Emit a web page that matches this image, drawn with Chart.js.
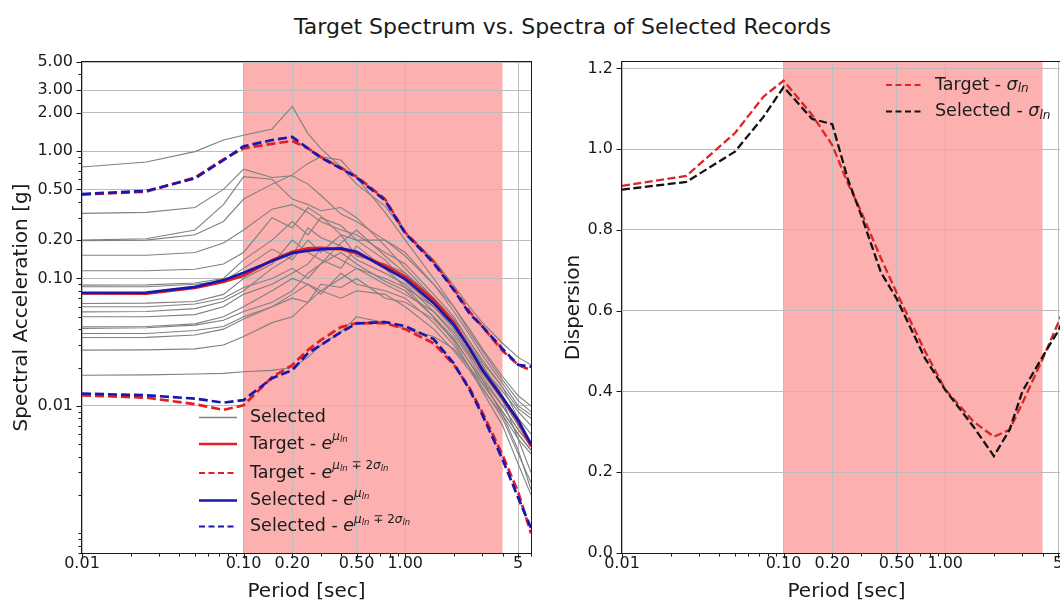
<!DOCTYPE html>
<html>
<head>
<meta charset="utf-8">
<script src="https://cdn.jsdelivr.net/npm/chart.js@4.4.1/dist/chart.umd.min.js"></script>
<style>
  html, body { margin: 0; padding: 0; background: #fff; width: 1060px; height: 602px; overflow: hidden; }
  #title { position: absolute; left: 0; top: 14px; width: 1125px; text-align: center;
           font: 22px "DejaVu Sans"; color: #1a1a1a; white-space: nowrap; }
  .box { position: absolute; top: 0; width: 545px; height: 602px; }
</style>
</head>
<body>
<div id="title">Target Spectrum vs. Spectra of Selected Records</div>
<div class="box" style="left:0"><canvas id="sa"></canvas></div>
<div class="box" style="left:540px"><canvas id="disp"></canvas></div>

<script>
// Periods (sec) shared by every curve
const periods = [0.01, 0.025, 0.05, 0.075, 0.1, 0.15, 0.2, 0.25, 0.3, 0.4, 0.5, 0.75, 1, 1.5, 2, 2.5, 3, 4, 5, 6];

// Axis ticks
const xTicks = [0.01, 0.1, 0.2, 0.5, 1, 5];
const xTickLabels = ['0.01', '0.10', '0.20', '0.50', '1.00', '5'];
const saTicks = [0.01, 0.1, 0.2, 0.5, 1, 2, 3, 5];
const saTickLabels = ['0.01', '0.10', '0.20', '0.50', '1.00', '2.00', '3.00', '5.00'];
const dispTicks = [0, 0.2, 0.4, 0.6, 0.8, 1.0, 1.2];

// Period range used for matching (shaded)
const targetRange = [0.1, 4];

// Spectra of selected ground motions [g]
const selectedRecords = [
  [0.75, 0.82, 0.99, 1.22, 1.33, 1.49, 2.24, 1.37, 1.05, 0.75, 0.55, 0.37, 0.23, 0.14, 0.088, 0.06, 0.045, 0.031, 0.024, 0.021],
  [0.324, 0.33, 0.36, 0.5, 0.72, 0.62, 0.64, 0.55, 0.45, 0.32, 0.28, 0.2, 0.15, 0.09, 0.06, 0.038, 0.027, 0.016, 0.011, 0.009],
  [0.2, 0.205, 0.24, 0.38, 0.63, 0.6, 0.42, 0.38, 0.34, 0.36, 0.3, 0.18, 0.12, 0.07, 0.045, 0.03, 0.021, 0.012, 0.0075, 0.005],
  [0.198, 0.2, 0.22, 0.28, 0.42, 0.55, 0.65, 0.8, 0.9, 0.85, 0.62, 0.33, 0.2, 0.1, 0.06, 0.04, 0.028, 0.017, 0.012, 0.01],
  [0.152, 0.152, 0.16, 0.19, 0.24, 0.35, 0.38, 0.33, 0.28, 0.24, 0.22, 0.16, 0.13, 0.075, 0.05, 0.032, 0.023, 0.014, 0.0095, 0.008],
  [0.115, 0.115, 0.118, 0.13, 0.16, 0.3, 0.25, 0.36, 0.31, 0.22, 0.2, 0.2, 0.16, 0.09, 0.055, 0.036, 0.025, 0.015, 0.01, 0.0085],
  [0.0886, 0.089, 0.092, 0.1, 0.14, 0.2, 0.28, 0.22, 0.3, 0.26, 0.2, 0.14, 0.095, 0.06, 0.042, 0.028, 0.02, 0.013, 0.009, 0.007],
  [0.086, 0.086, 0.09, 0.095, 0.12, 0.17, 0.14, 0.2, 0.16, 0.22, 0.15, 0.13, 0.11, 0.068, 0.046, 0.03, 0.021, 0.011, 0.0055, 0.003],
  [0.0636, 0.064, 0.066, 0.075, 0.1, 0.13, 0.2, 0.16, 0.14, 0.12, 0.18, 0.12, 0.085, 0.05, 0.034, 0.022, 0.015, 0.009, 0.006, 0.0045],
  [0.0599, 0.06, 0.063, 0.07, 0.085, 0.1, 0.12, 0.1, 0.13, 0.19, 0.24, 0.15, 0.11, 0.07, 0.048, 0.032, 0.022, 0.014, 0.008, 0.006],
  [0.0547, 0.055, 0.058, 0.066, 0.08, 0.12, 0.15, 0.25, 0.21, 0.18, 0.14, 0.11, 0.09, 0.055, 0.036, 0.024, 0.016, 0.0085, 0.0045, 0.0022],
  [0.05, 0.05, 0.052, 0.06, 0.075, 0.09, 0.11, 0.13, 0.17, 0.14, 0.12, 0.1, 0.085, 0.06, 0.04, 0.026, 0.017, 0.01, 0.0065, 0.0048],
  [0.0417, 0.042, 0.044, 0.05, 0.06, 0.08, 0.1, 0.09, 0.08, 0.1, 0.12, 0.09, 0.075, 0.055, 0.038, 0.025, 0.018, 0.011, 0.007, 0.005],
  [0.0405, 0.041, 0.043, 0.047, 0.055, 0.065, 0.08, 0.11, 0.13, 0.16, 0.13, 0.095, 0.08, 0.05, 0.032, 0.02, 0.013, 0.007, 0.0035, 0.002],
  [0.037, 0.037, 0.039, 0.042, 0.05, 0.06, 0.07, 0.065, 0.09, 0.085, 0.1, 0.07, 0.065, 0.048, 0.033, 0.022, 0.016, 0.01, 0.0065, 0.005],
  [0.0344, 0.0345, 0.036, 0.04, 0.048, 0.06, 0.075, 0.09, 0.075, 0.11, 0.09, 0.08, 0.07, 0.045, 0.03, 0.02, 0.014, 0.008, 0.0042, 0.0025],
  [0.0274, 0.0275, 0.028, 0.03, 0.035, 0.045, 0.05, 0.065, 0.08, 0.07, 0.08, 0.075, 0.06, 0.04, 0.027, 0.019, 0.0135, 0.0085, 0.0055, 0.0042],
  [0.0174, 0.0175, 0.0178, 0.018, 0.0185, 0.019, 0.02, 0.024, 0.03, 0.038, 0.05, 0.045, 0.04, 0.035, 0.028, 0.02, 0.015, 0.009, 0.006, 0.0045]
];

// Target and selected statistics [g]
const targetMean    = [0.0763, 0.076, 0.0844, 0.094, 0.105, 0.139, 0.162, 0.172, 0.174, 0.170, 0.158, 0.126, 0.104, 0.068, 0.045, 0.028, 0.019, 0.0115, 0.0075, 0.0048];
const targetUpper   = [0.455, 0.48, 0.62, 0.86, 1.05, 1.14, 1.20, 1.05, 0.90, 0.74, 0.63, 0.42, 0.23, 0.135, 0.083, 0.055, 0.042, 0.027, 0.021, 0.019];
const targetLower   = [0.0121, 0.0116, 0.0103, 0.0093, 0.0101, 0.0168, 0.0209, 0.0274, 0.0328, 0.0415, 0.0446, 0.0446, 0.040, 0.031, 0.021, 0.0138, 0.0089, 0.0041, 0.0021, 0.001];
const selectedMean  = [0.077, 0.0775, 0.086, 0.097, 0.111, 0.137, 0.158, 0.165, 0.169, 0.172, 0.162, 0.121, 0.099, 0.064, 0.043, 0.0284, 0.0192, 0.0116, 0.0077, 0.005];
const selectedUpper = [0.46, 0.487, 0.61, 0.85, 1.09, 1.22, 1.29, 1.05, 0.89, 0.73, 0.62, 0.41, 0.226, 0.132, 0.081, 0.053, 0.042, 0.028, 0.021, 0.0203];
const selectedLower = [0.0125, 0.0121, 0.0114, 0.0106, 0.0111, 0.0165, 0.0191, 0.0259, 0.030, 0.0379, 0.0443, 0.0455, 0.0422, 0.0334, 0.0215, 0.0134, 0.0085, 0.0038, 0.0019, 0.0011];

// Dispersion (sigma ln)
const targetSigma   = [0.909, 0.934, 1.04, 1.13, 1.17, 1.085, 1.01, 0.915, 0.848, 0.73, 0.645, 0.50, 0.405, 0.325, 0.288, 0.305, 0.371, 0.48, 0.57, 0.65];
const selectedSigma = [0.90, 0.919, 0.994, 1.08, 1.154, 1.075, 1.062, 0.925, 0.84, 0.695, 0.63, 0.482, 0.404, 0.312, 0.24, 0.305, 0.40, 0.486, 0.55, 0.62];

const FONT = 'DejaVu Sans';
const TEXT = '#1a1a1a';
const GRID = '#bcbcbc';
const RED = '#e41e1e';
const BLUE = '#1818b0';
const GRAY = '#808080';
const BAND = '#fcb0b0';

const pts = (vals) => periods.map((p, i) => ({ x: p, y: vals[i] }));

function line(label, vals, color, width, dash) {
  return { label, data: pts(vals), borderColor: color, borderWidth: width,
           borderDash: dash || [], pointRadius: 0, fill: false, tension: 0 };
}

function logMinors(min, max, majors) {
  const out = [];
  for (let d = Math.pow(10, Math.floor(Math.log10(min))); d <= max; d *= 10) {
    for (let k = 1; k < 10; k++) {
      const v = +(k * d).toPrecision(4);
      if (v >= min && v <= max && !majors.some(m => Math.abs(m - v) < 1e-9)) out.push(v);
    }
  }
  return out;
}

// draw a run of text pieces (for e^{mu_ln} style labels)
function drawRich(ctx, x, y, parts) {
  let cx = x;
  parts.forEach(p => {
    ctx.font = p.f;
    ctx.fillText(p.t, cx, y + (p.dy || 0));
    cx += ctx.measureText(p.t).width;
  });
}

const base = `17.5px "${FONT}"`;
const ital = `italic 17.5px "${FONT}"`;
const sup = `12px "${FONT}"`;
const supI = `italic 12px "${FONT}"`;
const sub2 = `italic 8.5px "${FONT}"`;
const subR = `italic 12px "${FONT}"`;

const expMu = [
  { t: 'e', f: ital },
  { t: 'μ', f: supI, dy: -7 },
  { t: 'ln', f: sub2, dy: -4 }
];
const expMuSig = expMu.concat([
  { t: ' ∓ 2', f: sup, dy: -7 },
  { t: 'σ', f: supI, dy: -7 },
  { t: 'ln', f: sub2, dy: -4 }
]);

function drawSample(ctx, x0, x1, y, color, width, dash) {
  ctx.save();
  ctx.strokeStyle = color;
  ctx.lineWidth = width;
  ctx.setLineDash(dash || []);
  ctx.beginPath();
  ctx.moveTo(x0, y);
  ctx.lineTo(x1, y);
  ctx.stroke();
  ctx.restore();
}

function makeFrame(opts) {
  return {
    id: 'frame' + opts.id,
    beforeDraw(chart) {
      const { ctx, chartArea: a, scales: { x } } = chart;
      const x0 = x.getPixelForValue(targetRange[0]);
      const x1 = x.getPixelForValue(targetRange[1]);
      ctx.save();
      ctx.fillStyle = BAND;
      ctx.fillRect(x0, a.top, x1 - x0, a.bottom - a.top);
      ctx.restore();
    },
    afterDraw(chart) {
      const { ctx, chartArea: a, scales: { x, y } } = chart;
      ctx.save();
      ctx.strokeStyle = TEXT;
      ctx.lineWidth = 1;
      const L = Math.round(a.left) - 0.5, T = Math.round(a.top) - 0.5;
      const R = Math.round(a.right) + 0.5, B = Math.round(a.bottom) + 0.5;
      ctx.strokeRect(L, T, R - L, B - T);
      // x tick marks
      const tickX = (v, len) => {
        const px = Math.round(x.getPixelForValue(v)) + 0.5;
        ctx.beginPath(); ctx.moveTo(px, B); ctx.lineTo(px, B + len); ctx.stroke();
      };
      xTicks.forEach(v => tickX(v, 5));
      logMinors(x.min, x.max, xTicks).forEach(v => tickX(v, 3));
      // y tick marks
      const tickY = (v, len) => {
        const py = Math.round(y.getPixelForValue(v)) + 0.5;
        ctx.beginPath(); ctx.moveTo(L, py); ctx.lineTo(L - len, py); ctx.stroke();
      };
      opts.yMajors.forEach(v => tickY(v, 5));
      if (opts.yLog) logMinors(y.min, y.max, opts.yMajors).forEach(v => tickY(v, 3));
      ctx.restore();
      opts.legend(ctx);
    }
  };
}

function xScale() {
  return {
    type: 'logarithmic', min: 0.01, max: 6,
    afterBuildTicks: s => { s.ticks = xTicks.map(v => ({ value: v })); },
    afterFit: s => { s.height = 49; },
    ticks: { autoSkip: false, maxRotation: 0, minRotation: 0, padding: 1, color: TEXT,
             font: { family: FONT, size: 16 }, callback: (v, i) => xTickLabels[i] },
    grid: { color: GRID, lineWidth: 1, drawTicks: false },
    border: { display: false },
    title: { display: true, text: 'Period [sec]', color: TEXT,
             font: { family: FONT, size: 20 }, padding: { top: 0, bottom: -2 } }
  };
}

// ---------- left: spectra ----------
const saDatasets = [];
selectedRecords.forEach((r, i) => saDatasets.push(line(i === 0 ? 'Selected' : '', r, GRAY, 1.1)));
saDatasets.push(line('Target - mean', targetMean, RED, 2.7));
saDatasets.push(line('Target + 2 sigma', targetUpper, RED, 2.7, [9, 4]));
saDatasets.push(line('Target - 2 sigma', targetLower, RED, 2.7, [9, 4]));
saDatasets.push(line('Selected - mean', selectedMean, BLUE, 2.7));
saDatasets.push(line('Selected + 2 sigma', selectedUpper, BLUE, 2.7, [9, 4]));
saDatasets.push(line('Selected - 2 sigma', selectedLower, BLUE, 2.7, [9, 4]));
saDatasets.forEach((d, i) => { d.order = saDatasets.length - i; });

function saLegend(ctx) {
  const rows = [
    { y: 417.5, color: GRAY, w: 1.3, parts: [{ t: 'Selected', f: base }] },
    { y: 444, color: RED, w: 2.6, parts: [{ t: 'Target - ', f: base }].concat(expMu) },
    { y: 473, color: RED, w: 2.2, dash: [6, 3.5], parts: [{ t: 'Target - ', f: base }].concat(expMuSig) },
    { y: 500.5, color: BLUE, w: 2.6, parts: [{ t: 'Selected - ', f: base }].concat(expMu) },
    { y: 526.5, color: BLUE, w: 2.2, dash: [6, 3.5], parts: [{ t: 'Selected - ', f: base }].concat(expMuSig) }
  ];
  ctx.save();
  ctx.fillStyle = TEXT;
  ctx.textBaseline = 'middle';
  rows.forEach(r => {
    drawSample(ctx, 199, 237, r.y, r.color, r.w, r.dash);
    drawRich(ctx, 250, r.y, r.parts);
  });
  ctx.restore();
}

new Chart(document.getElementById('sa'), {
  type: 'line',
  data: { datasets: saDatasets },
  options: {
    responsive: true, maintainAspectRatio: false, animation: false, events: [],
    layout: { padding: { top: 62, right: 14, bottom: 0, left: 0 } },
    plugins: { legend: { display: false }, tooltip: { enabled: false } },
    scales: {
      x: xScale(),
      y: {
        type: 'logarithmic', min: 0.0007, max: 5,
        afterBuildTicks: s => { s.ticks = saTicks.map(v => ({ value: v })); },
        afterFit: s => { s.width = 82; },
        ticks: { autoSkip: false, padding: 9, color: TEXT, font: { family: FONT, size: 16 },
                 callback: (v, i) => saTickLabels[i] },
        grid: { color: GRID, lineWidth: 1, drawTicks: false },
        border: { display: false },
        title: { display: true, text: 'Spectral Acceleration [g]', color: TEXT,
                 font: { family: FONT, size: 20 }, padding: { top: 10, bottom: 0 } }
      }
    }
  },
  plugins: [makeFrame({ id: 'sa', yMajors: saTicks, yLog: true, legend: saLegend })]
});

// ---------- right: dispersion ----------
const dispDatasets = [
  line('Target - sigma', targetSigma, '#d92626', 2.3, [8, 3.5]),
  line('Selected - sigma', selectedSigma, '#111111', 2.3, [8, 3.5])
];
dispDatasets.forEach((d, i) => { d.order = dispDatasets.length - i; });

function dispLegend(ctx) {
  const rows = [
    { y: 85, color: '#d92626', label: 'Target - ' },
    { y: 111.5, color: '#111111', label: 'Selected - ' }
  ];
  ctx.save();
  ctx.fillStyle = TEXT;
  ctx.textBaseline = 'middle';
  rows.forEach(r => {
    drawSample(ctx, 346, 381, r.y, r.color, 2.2, [6, 3.5]);
    drawRich(ctx, 395, r.y, [
      { t: r.label, f: base },
      { t: 'σ', f: ital },
      { t: 'ln', f: subR, dy: 4 }
    ]);
  });
  ctx.restore();
}

new Chart(document.getElementById('disp'), {
  type: 'line',
  data: { datasets: dispDatasets },
  options: {
    responsive: true, maintainAspectRatio: false, animation: false, events: [],
    layout: { padding: { top: 62, right: 14, bottom: 0, left: 0 } },
    plugins: { legend: { display: false }, tooltip: { enabled: false } },
    scales: {
      x: xScale(),
      y: {
        type: 'linear', min: 0, max: 1.216,
        afterBuildTicks: s => { s.ticks = dispTicks.map(v => ({ value: v })); },
        afterFit: s => { s.width = 82; },
        ticks: { autoSkip: false, padding: 9, color: TEXT, font: { family: FONT, size: 16 },
                 callback: v => v.toFixed(1) },
        grid: { color: GRID, lineWidth: 1, drawTicks: false },
        border: { display: false },
        title: { display: true, text: 'Dispersion', color: TEXT,
                 font: { family: FONT, size: 20 }, padding: { top: 22, bottom: 0 } }
      }
    }
  },
  plugins: [makeFrame({ id: 'disp', yMajors: dispTicks, yLog: false, legend: dispLegend })]
});
</script>
</body>
</html>
